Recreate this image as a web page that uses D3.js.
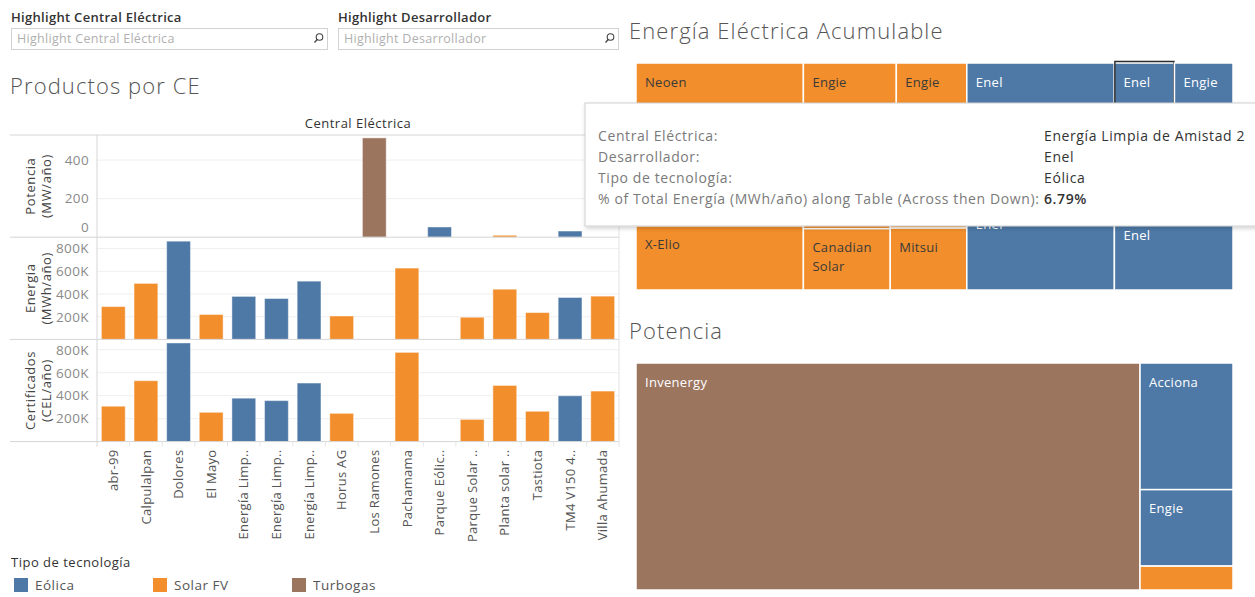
<!DOCTYPE html>
<html>
<head>
<meta charset="utf-8">
<script src="https://cdn.jsdelivr.net/npm/d3@7"></script>
<style>
  body { margin: 0; background: #fff; }
  svg { font-family: "Open Sans", "Noto Sans", sans-serif; }
</style>
</head>
<body>
<svg id="dash" width="1255" height="597"></svg>
<script>
// ---- data ----
var centrales = ["abr-99", "Calpulalpan", "Dolores", "El Mayo", "Energía Limpia de Amistad 2",
  "Energía Limpia de Amistad 3", "Energía Limpia de Amistad 4", "Horus AG", "Los Ramones", "Pachamama",
  "Parque Eólico El Cortijo", "Parque Solar Don José", "Planta solar Orejana", "Tastiota",
  "TM4 V150 4.2MW", "Villa Ahumada"];
var tickLabels = ["abr-99", "Calpulalpan", "Dolores", "El Mayo", "Energía Limp..", "Energía Limp..",
  "Energía Limp..", "Horus AG", "Los Ramones", "Pachamama", "Parque Eólic..", "Parque Solar ..",
  "Planta solar ..", "Tastiota", "TM4 V150 4..", "Villa Ahumada"];
var tecnologia = ["Solar FV", "Solar FV", "Eólica", "Solar FV", "Eólica", "Eólica", "Eólica", "Solar FV",
  "Turbogas", "Solar FV", "Eólica", "Solar FV", "Solar FV", "Solar FV", "Eólica", "Solar FV"];
var desarrollador = ["Engie", "Alten", "Enel", "Canadian Solar", "Enel", "Enel", "Enel", "Jinko Solar",
  "Invenergy", "Neoen", "Acciona", "Mitsui", "X-Elio", "Enel", "Engie", "Engie"];
var potencia = [null, null, null, null, null, null, null, null, 515, null, 53, null, 10, null, 32, null];
var energia = [289000, 493000, 865000, 219000, 378600, 360000, 513000, 206000, null, 628000, null,
  195000, 442000, 236000, 369000, 381000];
var certificados = [308000, 530000, 859000, 255000, 378000, 357000, 510000, 246000, null, 777000, null,
  193000, 489000, 264000, 399000, 440000];

var tiposTec = ["Eólica", "Solar FV", "Turbogas"];
var coloresTec = ["#4e79a7", "#f28e2b", "#9c755f"];
var hovered = "Energía Limpia de Amistad 2";

var color = d3.scaleOrdinal().domain(tiposTec).range(coloresTec);
var svg = d3.select("#dash");

// tooltip box (drawn last, but its bounds are needed to skip hidden labels)
var tipBox = {x: 585, y: 103, w: 690, h: 123};

// ---- filters ----
var filtros = [{label: "Highlight Central Eléctrica", x: 11, w: 316},
               {label: "Highlight Desarrollador", x: 338, w: 280}];
filtros.forEach(function (f) {
  svg.append("text").attr("x", f.x).attr("y", 17).attr("dy", "0.35em")
    .attr("font-size", 13).attr("font-weight", 600).attr("letter-spacing", 0.3)
    .attr("fill", "#333").text(f.label);
  svg.append("rect").attr("x", f.x + 0.5).attr("y", 28.5).attr("width", f.w).attr("height", 21)
    .attr("fill", "#fff").attr("stroke", "#d2d2d2");
  svg.append("text").attr("x", f.x + 6).attr("y", 39).attr("dy", "0.35em")
    .attr("font-size", 12.5).attr("letter-spacing", 0.3).attr("fill", "#b0b0b0").text(f.label);
  var ix = f.x + f.w - 9;
  svg.append("circle").attr("cx", ix + 1.5).attr("cy", 37).attr("r", 3.3)
    .attr("fill", "none").attr("stroke", "#444").attr("stroke-width", 1.1);
  svg.append("line").attr("x1", ix - 0.8).attr("y1", 39.5).attr("x2", ix - 3.5).attr("y2", 42.5)
    .attr("stroke", "#444").attr("stroke-width", 1.3);
});

// ---- titles ----
function titulo(txt, x, y) {
  svg.append("text").attr("x", x).attr("y", y).attr("dy", "0.35em")
    .attr("font-size", 22).attr("font-weight", 300).attr("letter-spacing", 1.1)
    .attr("fill", "#555").text(txt);
}
titulo("Productos por CE", 10, 86);
titulo("Energía Eléctrica Acumulable", 629, 31);
titulo("Potencia", 629, 331);

// ---- bar panels ----
var paneL = 97, paneR = 619, paneTop = 135, paneH = 102.2;
var x = d3.scaleBand().domain(centrales).range([paneL, paneR]).paddingInner(0.27).paddingOuter(0.135);
var fmtK = function (d) { return d === 0 ? "0" : (d / 1000) + "K"; };

var paneles = [
  {values: potencia, titulo: ["Potencia", "(MW/año)"], max: 530, ticks: [0, 200, 400], fmt: d3.format("d")},
  {values: energia, titulo: ["Energia", "(MWh/año)"], max: 900000, ticks: [200000, 400000, 600000, 800000], fmt: fmtK},
  {values: certificados, titulo: ["Certificados", "(CEL/año)"], max: 890000, ticks: [200000, 400000, 600000, 800000], fmt: fmtK}
];

svg.append("text").attr("x", (paneL + paneR) / 2).attr("y", 123).attr("dy", "0.35em")
  .attr("text-anchor", "middle").attr("font-size", 13).attr("letter-spacing", 0.5)
  .attr("fill", "#333").text("Central Eléctrica");

paneles.forEach(function (p, i) {
  var top = paneTop + i * paneH, bottom = top + paneH;
  var y = d3.scaleLinear().domain([0, p.max]).range([bottom, top]);
  var g = svg.append("g");

  g.selectAll(".grid").data(p.ticks.filter(function (t) { return t > 0; })).enter()
    .append("line").attr("x1", paneL).attr("x2", paneR)
    .attr("y1", function (t) { return y(t); }).attr("y2", function (t) { return y(t); })
    .attr("stroke", "#efefef");

  var ax = g.append("g").attr("transform", "translate(" + paneL + ",0)")
    .call(d3.axisLeft(y).tickValues(p.ticks).tickSize(0).tickPadding(8).tickFormat(p.fmt));
  ax.select(".domain").remove();
  ax.selectAll("text").attr("font-family", "'Open Sans', sans-serif").attr("font-size", 13.5)
    .attr("letter-spacing", 0.4).attr("fill", "#8a8a8a")
    .attr("y", function (t) { return t === 0 ? -10 : 0; });

  var cy = (top + bottom) / 2;
  p.titulo.forEach(function (t, k) {
    g.append("text").attr("transform", "translate(" + (30 + k * 16) + "," + cy + ") rotate(-90)")
      .attr("text-anchor", "middle").attr("dy", "0.35em").attr("font-size", 13)
      .attr("letter-spacing", 0.6).attr("fill", "#444").text(t);
  });

  var datos = centrales.map(function (c, j) { return {c: c, v: p.values[j], t: tecnologia[j]}; })
    .filter(function (d) { return d.v != null; });
  g.selectAll(".bar").data(datos).enter().append("rect")
    .attr("x", function (d) { return x(d.c); })
    .attr("width", x.bandwidth())
    .attr("y", function (d) { return y(d.v); })
    .attr("height", function (d) { return bottom - y(d.v); })
    .attr("fill", function (d) { return color(d.t); })
    .attr("stroke", "#fff").attr("stroke-opacity", 0.45).attr("stroke-width", 1);

  svg.append("line").attr("x1", 10).attr("x2", paneR).attr("y1", top).attr("y2", top).attr("stroke", "#d6d6d6");
});
var paneBottom = paneTop + 3 * paneH;
svg.append("line").attr("x1", 10).attr("x2", paneR).attr("y1", paneBottom).attr("y2", paneBottom).attr("stroke", "#d6d6d6");
svg.append("line").attr("x1", paneL).attr("x2", paneL).attr("y1", paneTop).attr("y2", paneBottom + 5).attr("stroke", "#d6d6d6");
svg.append("line").attr("x1", paneR).attr("x2", paneR).attr("y1", paneTop).attr("y2", paneBottom + 5).attr("stroke", "#e2e2e2");

svg.selectAll(".sep").data(centrales.slice(1)).enter().append("line")
  .attr("x1", function (c) { return x(c) - x.step() * x.paddingInner() / 2; })
  .attr("x2", function (c) { return x(c) - x.step() * x.paddingInner() / 2; })
  .attr("y1", paneBottom).attr("y2", paneBottom + 5).attr("stroke", "#e6e6e6");

svg.selectAll(".xlab").data(centrales).enter().append("text")
  .attr("transform", function (c) { return "translate(" + (x(c) + x.bandwidth() / 2) + "," + (paneBottom + 8) + ") rotate(-90)"; })
  .attr("text-anchor", "end").attr("dy", "0.35em").attr("font-size", 13).attr("letter-spacing", 0.3)
  .attr("fill", "#555")
  .text(function (c, j) { return tickLabels[j]; });

// ---- legend ----
svg.append("text").attr("x", 11).attr("y", 562).attr("dy", "0.35em").attr("font-size", 13)
  .attr("letter-spacing", 0.5).attr("fill", "#333").text("Tipo de tecnología");
var leg = svg.selectAll(".leg").data(tiposTec).enter().append("g")
  .attr("transform", function (d, j) { return "translate(" + (14 + j * 139) + ",578)"; });
leg.append("rect").attr("width", 14).attr("height", 14).attr("fill", function (d) { return color(d); });
leg.append("text").attr("x", 21).attr("y", 7).attr("dy", "0.35em").attr("font-size", 13.5)
  .attr("letter-spacing", 0.5).attr("fill", "#555").text(function (d) { return d; });

// ---- treemaps ----
function treemap(values, x0, y0) {
  var grupos = tiposTec.map(function (t) {
    return {name: t, children: centrales.map(function (c, j) {
      return {central: c, dev: desarrollador[j], tec: tecnologia[j], value: values[j]};
    }).filter(function (d) { return d.tec === t && d.value != null; })};
  }).filter(function (g) { return g.children.length; });
  var root = d3.hierarchy({children: grupos})
    .sum(function (d) { return d.value || 0; })
    .sort(function (a, b) { return b.value - a.value; });
  d3.treemap().size([597, 227]).tile(d3.treemapSquarify)(root);

  var g = svg.append("g").attr("transform", "translate(" + x0 + "," + y0 + ")");
  var cell = g.selectAll(".cell").data(root.leaves()).enter().append("g")
    .attr("transform", function (d) { return "translate(" + d.x0 + "," + d.y0 + ")"; });
  cell.append("rect")
    .attr("width", function (d) { return d.x1 - d.x0; })
    .attr("height", function (d) { return d.y1 - d.y0; })
    .attr("fill", function (d) { return color(d.data.tec); })
    .attr("stroke", "#fff").attr("stroke-width", 1.5);
  // labels that would sit completely under the tooltip are not drawn
  var oculto = function (d) {
    var ly = y0 + d.y0 + 19, lx = x0 + d.x0 + 9;
    return lx > tipBox.x && ly > tipBox.y + 8 && ly < tipBox.y + tipBox.h - 8;
  };
  cell.filter(function (d) { return d.y1 - d.y0 > 30 && !oculto(d); }).append("text")
    .attr("x", 9).attr("y", 19).attr("dy", "0.35em").attr("font-size", 13).attr("letter-spacing", 0.3)
    .attr("fill", function (d) { return d.data.tec === "Solar FV" ? "#3a3a3a" : "#fff"; })
    .each(function (d) {
      var t = d3.select(this).text(d.data.dev);
      if (this.getComputedTextLength() > d.x1 - d.x0 - 14) {
        t.text(null);
        d.data.dev.split(" ").forEach(function (w, k) {
          t.append("tspan").attr("x", 9).attr("dy", k ? "1.45em" : "0.35em").text(w);
        });
      }
    });
  return g;
}

var tmE = treemap(energia, 636, 63);
treemap(potencia, 636, 363);

// hovered cell outline in the energy treemap
tmE.selectAll("g").filter(function (d) { return d.data.central === hovered; })
  .append("rect")
  .attr("x", 0.5).attr("y", -1.5)
  .attr("width", function (d) { return d.x1 - d.x0 - 1; })
  .attr("height", function (d) { return d.y1 - d.y0; })
  .attr("fill", "none").attr("stroke", "#2b2b2b").attr("stroke-width", 1.5);

// ---- tooltip ----
var idx = centrales.indexOf(hovered);
var pct = energia[idx] / d3.sum(energia);
var defs = svg.append("defs");
var f = defs.append("filter").attr("id", "sombra").attr("x", "-5%").attr("y", "-10%").attr("width", "110%").attr("height", "130%");
f.append("feDropShadow").attr("dx", 1).attr("dy", 2).attr("stdDeviation", 2).attr("flood-opacity", 0.18);

var tip = svg.append("g").attr("transform", "translate(" + tipBox.x + "," + tipBox.y + ")");
tip.append("rect").attr("width", tipBox.w).attr("height", tipBox.h).attr("fill", "#fff")
  .attr("stroke", "#cfcfcf").attr("filter", "url(#sombra)");
var filas = [
  ["Central Eléctrica:", centrales[idx]],
  ["Desarrollador:", desarrollador[idx]],
  ["Tipo de tecnología:", tecnologia[idx]],
  ["% of Total Energía (MWh/año) along Table (Across then Down):", d3.format(".2%")(pct)]
];
filas.forEach(function (r, k) {
  tip.append("text").attr("x", 13).attr("y", 33 + k * 21).attr("dy", "0.35em")
    .attr("font-size", 14).attr("letter-spacing", 0.6).attr("fill", "#7a7a7a").text(r[0]);
  tip.append("text").attr("x", 459).attr("y", 33 + k * 21).attr("dy", "0.35em")
    .attr("font-size", 14).attr("letter-spacing", 0.6).attr("fill", "#333")
    .attr("font-weight", k === 3 ? 600 : 400).text(r[1]);
});
</script>
</body>
</html>
